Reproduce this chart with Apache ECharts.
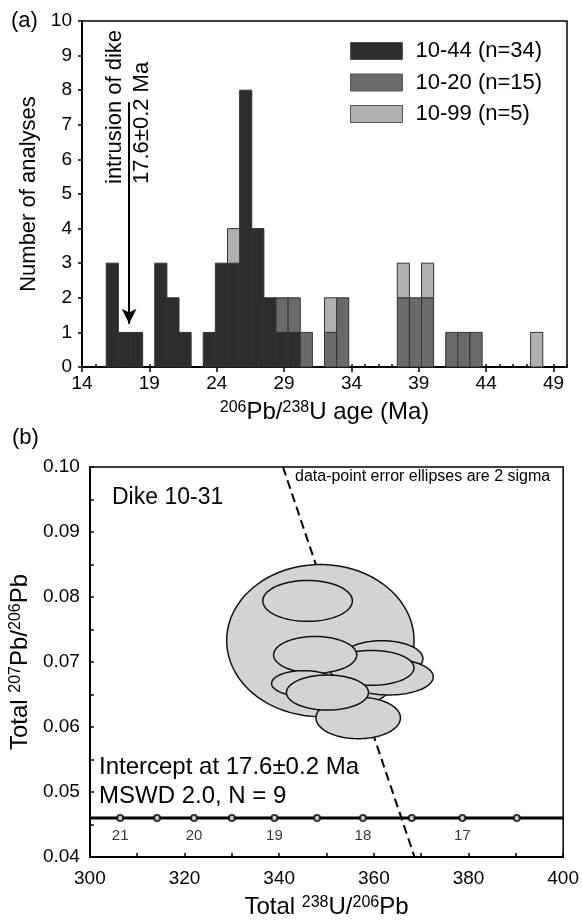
<!DOCTYPE html>
<html>
<head>
<meta charset="utf-8">
<script src="https://cdn.jsdelivr.net/npm/echarts@6/dist/echarts.min.js"></script>
<style>
  html, body { margin: 0; padding: 0; background: #fff; }
  #chart { width: 582px; height: 920px; }
</style>
</head>
<body>
<div id="chart"></div>
<script>
// (a) histogram: left edge of each bin (Ma) and counts per sample
var binWidth = 0.9
var binLeft = [15.8, 16.7, 17.6, 19.4, 20.3, 21.2, 23.0, 23.9, 24.8, 25.7, 26.6, 27.5,
  28.4, 29.3, 30.2, 32.0, 32.9, 37.4, 38.3, 39.2, 41.0, 41.9, 42.8, 47.3]
var count1044 = [3, 1, 1, 3, 2, 1, 1, 3, 3, 8, 4, 2, 1, 1, 0, 0, 0, 0, 0, 0, 0, 0, 0, 0]
var count1020 = [0, 0, 0, 0, 0, 0, 0, 0, 0, 0, 0, 0, 1, 1, 1, 1, 2, 2, 2, 2, 1, 1, 1, 0]
var count1099 = [0, 0, 0, 0, 0, 0, 0, 0, 1, 0, 0, 0, 0, 0, 0, 1, 0, 1, 0, 1, 0, 0, 0, 1]
var sampleNames = ['10-44 (n=34)', '10-20 (n=15)', '10-99 (n=5)']
var sampleColors = ['#2d2d2d', '#6a6a6a', '#b0b0b0']
var dikeArrow = [[17.5, 7.65], [17.5, 1.25]]

// (b) Tera-Wasserburg plot: ellipses [U/Pb centre, Pb/Pb centre, half width, half height]
var ellipses = [
  [348.7, 0.0733, 19.8, 0.0117],
  [346.0, 0.0794, 9.46, 0.00315],
  [361.7, 0.0705, 8.67, 0.00277],
  [363.2, 0.0677, 9.35, 0.00277],
  [359.5, 0.0691, 8.98, 0.00269],
  [347.6, 0.0711, 8.78, 0.00282],
  [345.2, 0.0667, 6.81, 0.00197],
  [356.7, 0.0614, 8.92, 0.0032],
  [350.2, 0.0653, 8.67, 0.00269]
]
var regression = [[340.8, 0.10], [368.6, 0.04]]
var concordiaLine = [[300, 0.046], [400, 0.046]]
var concordiaX = [306.4, 314.2, 322.0, 330.0, 339.0, 348.0, 357.7, 368.0, 378.7, 390.2]
var concordiaAge = ['21', '', '20', '', '19', '', '18', '', '17', '']
var concordiaY = 0.046

var FONT = '"Liberation Sans", Arial, sans-serif'

// stack the three samples
var histSeries = []
var base = binLeft.map(function () { return 0 })
;[count1044, count1020, count1099].forEach(function (counts, s) {
  var rows = []
  counts.forEach(function (c, i) {
    if (c > 0) rows.push([binLeft[i], base[i], base[i] + c])
    base[i] += c
  })
  histSeries.push({
    name: sampleNames[s],
    type: 'custom',
    xAxisIndex: 0,
    yAxisIndex: 0,
    itemStyle: { color: sampleColors[s], borderColor: '#3a3a3a', borderWidth: 1 },
    encode: { x: 0, y: [1, 2] },
    data: rows,
    renderItem: function (params, api) {
      var p0 = api.coord([api.value(0), api.value(2)])
      var p1 = api.coord([api.value(0) + binWidth, api.value(1)])
      return {
        type: 'rect',
        shape: { x: p0[0], y: p0[1], width: p1[0] - p0[0], height: p1[1] - p0[1] },
        style: { fill: sampleColors[s], stroke: '#333', lineWidth: 1 }
      }
    }
  })
})

var supRich = function (size) {
  return { sup: { fontSize: size, fontFamily: FONT, color: '#000', verticalAlign: 'top', lineHeight: 14 } }
}

var option = {
  animation: false,
  backgroundColor: '#fff',
  textStyle: { fontFamily: FONT, color: '#000' },
  grid: [
    { left: 82, right: 15, top: 21, height: 346, show: true, borderColor: '#000', borderWidth: 1.5, backgroundColor: 'transparent' },
    { left: 84, right: 14, top: 467, height: 390, show: true, borderColor: '#000', borderWidth: 1.5, backgroundColor: 'transparent' }
  ],
  legend: {
    orient: 'vertical',
    left: 350,
    top: 40,
    padding: 0,
    itemWidth: 52,
    itemHeight: 17,
    itemGap: 9.5,
    icon: 'rect',
    textStyle: { fontSize: 22, fontFamily: FONT, color: '#000', padding: [0, 0, 0, 8] },
    data: sampleNames.map(function (n, i) {
      return { name: n, itemStyle: { color: sampleColors[i], borderColor: '#555', borderWidth: 1 } }
    })
  },
  xAxis: [
    {
      type: 'value', gridIndex: 0, min: 14, max: 50, interval: 5,
      name: '{sup|206}Pb/{sup|238}U age (Ma)', nameLocation: 'middle', nameGap: 33,
      nameTextStyle: { fontSize: 24, fontFamily: FONT, color: '#000', rich: supRich(16) },
      axisLine: { lineStyle: { color: '#000', width: 2 } },
      axisTick: { length: 5, lineStyle: { color: '#000', width: 1.5 } },
      axisLabel: { fontSize: 19, color: '#000', margin: 7, showMaxLabel: false },
      splitLine: { show: false }
    },
    {
      type: 'value', gridIndex: 0, min: 14, max: 50, interval: 1, position: 'bottom',
      axisLine: { show: false },
      axisTick: { inside: true, length: 3, lineStyle: { color: '#000', width: 1.5 } },
      axisLabel: { show: false },
      splitLine: { show: false }
    },
    {
      type: 'value', gridIndex: 1, min: 300, max: 400, interval: 20,
      name: 'Total {sup|238}U/{sup|206}Pb', nameLocation: 'middle', nameGap: 38,
      nameTextStyle: { fontSize: 24, fontFamily: FONT, color: '#000', rich: supRich(16) },
      axisLine: { lineStyle: { color: '#000', width: 2 } },
      axisTick: { inside: true, length: 4, lineStyle: { color: '#000', width: 1.5 } },
      minorTick: { show: true, splitNumber: 2, length: 4, lineStyle: { color: '#000', width: 1.5 } },
      axisLabel: { fontSize: 19, color: '#000', margin: 12 },
      splitLine: { show: false }
    }
  ],
  yAxis: [
    {
      type: 'value', gridIndex: 0, min: 0, max: 10, interval: 1,
      name: 'Number of analyses', nameLocation: 'middle', nameGap: 32,
      nameTextStyle: { fontSize: 22, fontFamily: FONT, color: '#000' },
      axisLine: { lineStyle: { color: '#000', width: 2 } },
      axisTick: { length: 4, lineStyle: { color: '#000', width: 1.5 } },
      axisLabel: { fontSize: 19, color: '#000', margin: 10 },
      splitLine: { show: false }
    },
    {
      type: 'value', gridIndex: 1, min: 0.04, max: 0.10, interval: 0.01,
      name: 'Total {sup|207}Pb/{sup|206}Pb', nameLocation: 'middle', nameGap: 45,
      nameTextStyle: { fontSize: 24, fontFamily: FONT, color: '#000', rich: supRich(16) },
      axisLine: { lineStyle: { color: '#000', width: 2 } },
      axisTick: { inside: true, length: 4, lineStyle: { color: '#000', width: 1.5 } },
      minorTick: { show: true, splitNumber: 2, length: 4, lineStyle: { color: '#000', width: 1.5 } },
      axisLabel: { fontSize: 19, color: '#000', margin: 10, formatter: function (v) { return v.toFixed(2) } },
      splitLine: { show: false }
    }
  ],
  series: histSeries.concat([
    {
      type: 'line',
      xAxisIndex: 0,
      yAxisIndex: 0,
      data: [],
      markLine: {
        silent: true,
        symbol: ['none', 'arrow'],
        symbolSize: [11, 15],
        label: { show: false },
        lineStyle: { color: '#000', width: 2, type: 'solid' },
        data: [[{ coord: dikeArrow[0] }, { coord: dikeArrow[1] }]]
      }
    },
    {
      type: 'line',
      xAxisIndex: 2,
      yAxisIndex: 1,
      data: regression,
      symbol: 'none',
      lineStyle: { color: '#000', width: 2, type: [9, 5] },
      z: 2
    },
    {
      type: 'custom',
      xAxisIndex: 2,
      yAxisIndex: 1,
      encode: { x: 0, y: 1 },
      data: ellipses,
      z: 3,
      renderItem: function (params, api) {
        var cx = api.value(0), cy = api.value(1), rx = api.value(2), ry = api.value(3)
        var pts = []
        for (var k = 0; k < 90; k++) {
          var t = k / 90 * Math.PI * 2
          pts.push(api.coord([cx + rx * Math.cos(t), cy + ry * Math.sin(t)]))
        }
        return {
          type: 'polygon',
          shape: { points: pts },
          style: { fill: '#d3d3d3', stroke: '#111', lineWidth: 1.5 }
        }
      }
    },
    {
      type: 'line',
      xAxisIndex: 2,
      yAxisIndex: 1,
      data: concordiaLine,
      symbol: 'none',
      lineStyle: { color: '#000', width: 3 },
      z: 4
    },
    {
      type: 'scatter',
      xAxisIndex: 2,
      yAxisIndex: 1,
      symbol: 'emptyCircle',
      symbolSize: 6,
      itemStyle: { color: '#000', borderWidth: 1.5 },
      data: concordiaX.map(function (x, i) { return [x, concordiaY, concordiaAge[i]] }),
      label: {
        show: true,
        position: 'bottom',
        distance: 6,
        fontSize: 15,
        color: '#000',
        formatter: function (p) { return p.value[2] }
      },
      z: 5
    }
  ]),
  graphic: [
    { type: 'text', left: 11, top: 10, style: { text: '(a)', font: '22px ' + FONT, fill: '#000' } },
    { type: 'text', left: 12, top: 427, style: { text: '(b)', font: '22px ' + FONT, fill: '#000' } },
    { type: 'text', x: 115, y: 184, rotation: Math.PI / 2, style: { text: 'intrusion of dike', font: '22px ' + FONT, fill: '#000', textAlign: 'left', textVerticalAlign: 'middle' } },
    { type: 'text', x: 142, y: 184, rotation: Math.PI / 2, style: { text: '17.6±0.2 Ma', font: '22px ' + FONT, fill: '#000', textAlign: 'left', textVerticalAlign: 'middle' } },
    { type: 'text', x: 295, y: 477, style: { text: 'data-point error ellipses are 2 sigma', font: '16px ' + FONT, fill: '#000', textAlign: 'left', textVerticalAlign: 'middle' } },
    { type: 'text', x: 112, y: 498, style: { text: 'Dike 10-31', font: '23px ' + FONT, fill: '#000', textAlign: 'left', textVerticalAlign: 'middle' } },
    { type: 'text', x: 99, y: 767, style: { text: 'Intercept at 17.6±0.2 Ma', font: '24px ' + FONT, fill: '#000', textAlign: 'left', textVerticalAlign: 'middle' } },
    { type: 'text', x: 99, y: 796, style: { text: 'MSWD 2.0, N = 9', font: '24px ' + FONT, fill: '#000', textAlign: 'left', textVerticalAlign: 'middle' } }
  ]
}

var myChart = echarts.init(document.getElementById('chart'))
myChart.setOption(option)
</script>
</body>
</html>
